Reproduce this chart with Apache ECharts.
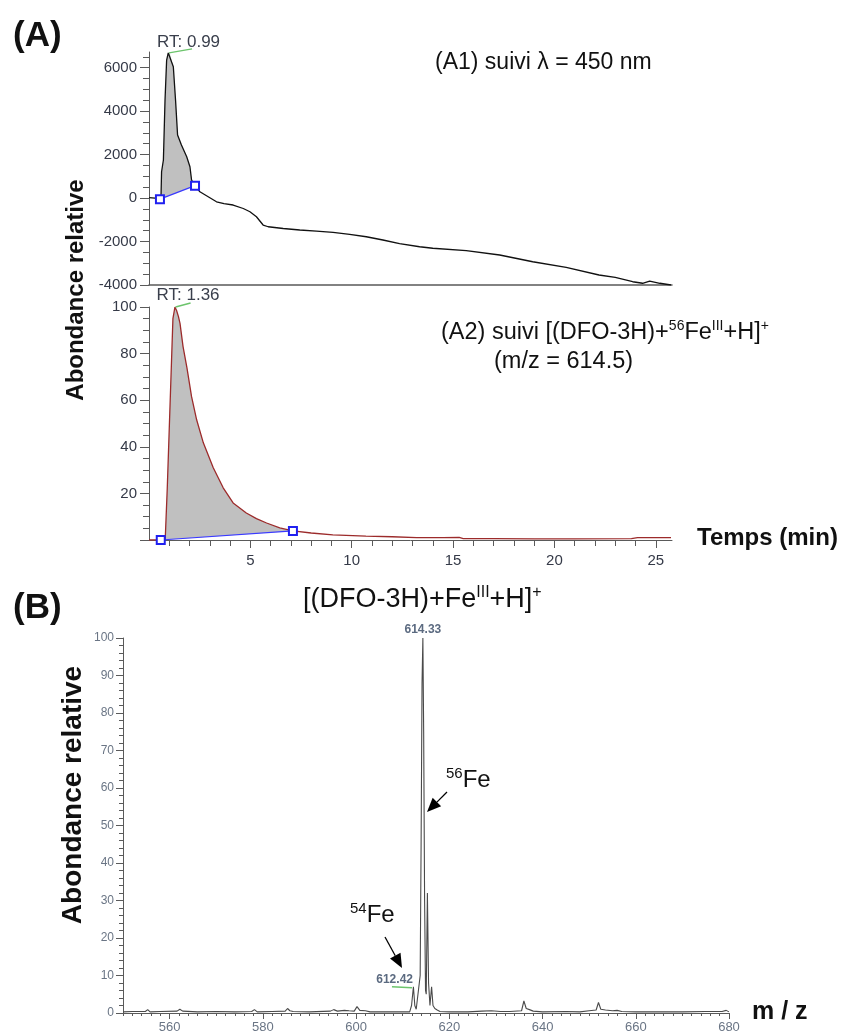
<!DOCTYPE html>
<html><head><meta charset="utf-8">
<script src="https://cdn.jsdelivr.net/npm/echarts@6/dist/echarts.min.js"></script>
<style>html,body{margin:0;padding:0;background:#fff}#c{width:846px;height:1033px}</style>
</head><body><div id="c"></div>
<script>
// ================= DATA =================
// (A1) absorbance trace, lambda = 450 nm
const a1Time   = [0, 0.15, 0.3, 0.38, 0.46, 0.54, 0.59, 0.62, 0.71, 0.79, 0.87, 0.95, 0.99, 1.03, 1.2, 1.31, 1.41, 1.6, 1.86, 2.02, 2.1, 2.27, 2.51, 2.92, 3.33, 3.7, 4.15, 4.65, 4.98, 5.3, 5.63, 5.88, 6.62, 7.44, 8.26, 9.08, 9.9, 10.72, 11.54, 12.36, 13.35, 14.0, 15.65, 17.3, 18.93, 20.58, 22.2, 23.0, 23.86, 24.35, 24.7, 25.2, 25.75];
const a1Signal = [20, 10, 0, -90, -40, -50, 0, 1210, 1750, 4500, 6350, 6680, 6680, 6650, 6040, 4500, 2900, 2440, 1900, 1440, 830, 570, 290, 60, -170, -260, -320, -480, -630, -860, -1240, -1320, -1400, -1470, -1520, -1580, -1670, -1780, -1930, -2100, -2240, -2310, -2420, -2620, -2930, -3190, -3540, -3650, -3850, -3920, -3820, -3920, -4000];
const a1BaseTime   = [0.54, 2.27];
const a1BaseSignal = [-50, 570];
const a1PeakPoint  = [[0.99, 6680]];
const a1PeakText   = ['RT: 0.99'];

// (A2) extracted ion m/z 614.5
const a2Time  = [0, 0.58, 0.8, 0.9, 1.0, 1.1, 1.18, 1.28, 1.36, 1.45, 1.53, 1.68, 1.87, 2.1, 2.35, 2.68, 3.17, 3.66, 4.15, 4.8, 5.3, 5.8, 6.45, 7.1, 8.0, 9.07, 10.7, 12.0, 13.2, 14.5, 15.3, 15.5, 17, 19, 21, 23.8, 24.1, 25.75];
const a2Abund = [0, 0, 0.3, 22, 48, 74, 95, 100, 98.5, 96, 93, 83, 74, 61.5, 51.6, 41.7, 31, 22.4, 15.9, 11.6, 9.2, 7.3, 5.2, 3.9, 3.0, 2.2, 1.7, 1.4, 1.0, 1.0, 1.1, 0.6, 0.6, 0.5, 0.5, 0.6, 1.0, 1.0];
const a2BaseTime  = [0.58, 7.1];
const a2BaseAbund = [0, 3.9];
const a2PeakPoint = [[1.36, 100]];
const a2PeakText  = ['RT: 1.36'];

// (B) mass spectrum
const bMz    = [550, 552, 554.8, 555.3, 555.8, 558, 561.6, 562.2, 562.8, 566, 570, 574, 577.6, 578.2, 578.8, 582, 584.8, 585.3, 585.8, 586.5, 590, 594.5, 595.2, 596, 597.5, 598.5, 599.6, 600.2, 600.8, 602, 603, 606, 609, 611.5, 611.9, 612.3, 612.6, 612.9, 613.3, 613.75, 613.95, 614.15, 614.33, 614.5, 614.7, 614.9, 615.05, 615.3, 615.55, 615.85, 616.2, 616.5, 616.9, 617.4, 618, 620, 624, 627, 629, 631, 633, 635.5, 636.0, 636.5, 637.2, 638, 640, 645, 648, 650, 651.5, 652.0, 652.5, 653.5, 655, 656, 657, 660, 665, 670, 675, 678.5, 679.4, 680];
const bAbund = [0.3, 0.4, 0.4, 0.9, 0.3, 0.4, 0.5, 1.0, 0.5, 0.3, 0.4, 0.3, 0.4, 0.9, 0.3, 0.4, 0.5, 1.2, 0.6, 0.4, 0.3, 0.5, 0.9, 0.5, 0.7, 0.6, 0.5, 1.7, 0.7, 0.6, 0.3, 0.3, 0.3, 0.3, 2.0, 7.0, 2.0, 1.0, 1.5, 10, 45, 88, 100, 75, 30, 6, 5, 32, 8, 2, 7, 2, 1.2, 0.8, 0.4, 0.3, 0.3, 0.5, 0.6, 0.4, 0.4, 0.6, 3.2, 1.2, 0.9, 0.5, 0.3, 0.4, 0.3, 0.6, 0.8, 2.8, 1.0, 0.8, 0.6, 0.7, 0.4, 0.3, 0.3, 0.3, 0.4, 0.4, 0.7, 0.3];
const bPeakPoints = [[614.33, 100], [612.42, 7]];
const bPeakTexts  = ['614.33', '612.42'];

// tick values
const a1YLabels = [-4000, -2000, 0, 2000, 4000, 6000];
const a2XLabels = [5, 10, 15, 20, 25];
const a2YLabels = [20, 40, 60, 80, 100];
const a2YMajor  = [0, 20, 40, 60, 80, 100];
const bXLabels  = [560, 580, 600, 620, 640, 660, 680];
const bYLabels  = [0, 10, 20, 30, 40, 50, 60, 70, 80, 90, 100];

// ================= HELPERS =================
const FONT = '"Liberation Sans", Arial, Helvetica, sans-serif';
const zip = (xs, ys) => xs.map((x, i) => [x, ys[i]]);
function stepTicks(lo, hi, step, skip) {
  const out = [];
  for (let k = 0; lo + k * step <= hi + 1e-9; k++) {
    const v = Math.round((lo + k * step) * 1000) / 1000;
    if (!skip.some(s => Math.abs(s - v) < 1e-9)) out.push(v);
  }
  return out;
}
const a1YMinor = stepTicks(-3500, 6500, 500, a1YLabels);
const a2XMinor = stepTicks(1, 25, 1, a2XLabels);
const a2YMinor = stepTicks(5, 95, 5, a2YMajor);
const bXMinor  = stepTicks(550, 680, 2, bXLabels);
const bYMinor  = stepTicks(2, 98, 2, bYLabels);

const AX = '#5a5a5a';
const plain = v => String(v);
function majorAxis(dim, grid, min, max, labelVals, tickVals, tickLen, lab, lineW) {
  return {
    type: 'value', gridIndex: grid, min, max, position: dim === 'x' ? 'bottom' : 'left',
    axisLine: { show: true, onZero: false, lineStyle: { color: AX, width: lineW || 1 } },
    axisTick: { show: tickVals.length > 0, customValues: tickVals, length: tickLen, lineStyle: { color: AX, width: 1 } },
    axisLabel: labelVals.length ? Object.assign({ show: true, customValues: labelVals, fontFamily: FONT, formatter: plain }, lab) : { show: false },
    splitLine: { show: false }, minorTick: { show: false }
  };
}
function minorAxis(dim, grid, min, max, tickVals, tickLen) {
  return {
    type: 'value', gridIndex: grid, min, max, position: dim === 'x' ? 'bottom' : 'left',
    axisLine: { show: false, onZero: false },
    axisTick: { show: true, customValues: tickVals, length: tickLen, lineStyle: { color: AX, width: 1 } },
    axisLabel: { show: false }, splitLine: { show: false }
  };
}
function peakArea(xi, yi, ts, vs, bt, bv) {
  return {
    type: 'custom', xAxisIndex: xi, yAxisIndex: yi, silent: true, z: 1,
    data: [[bt[0], bv[0]]],
    renderItem(params, api) {
      const pts = [api.coord([bt[0], bv[0]])];
      for (let i = 0; i < ts.length; i++) if (ts[i] > bt[0] && ts[i] < bt[1]) pts.push(api.coord([ts[i], vs[i]]));
      pts.push(api.coord([bt[1], bv[1]]));
      return { type: 'polygon', shape: { points: pts }, style: { fill: '#c0c0c0' } };
    }
  };
}
function peakLabels(xi, yi, pts, texts, items) {
  return {
    type: 'custom', xAxisIndex: xi, yAxisIndex: yi, silent: true, z: 6, clip: false,
    data: pts,
    renderItem(params, api) {
      const p = api.coord([api.value(0), api.value(1)]);
      const c = items[params.dataIndex];
      const ch = [{ type: 'text', x: p[0] + c.dx, y: p[1] + c.dy,
        style: { text: texts[params.dataIndex], font: c.font, fill: c.color, align: c.align, verticalAlign: 'bottom' } }];
      if (c.green) ch.push({ type: 'line', shape: { x1: p[0] + c.green[0], y1: p[1] + c.green[1], x2: p[0] + c.green[2], y2: p[1] + c.green[3] },
        style: { stroke: '#6cc46c', lineWidth: 1.3 } });
      return { type: 'group', children: ch };
    }
  };
}
function arrow(x1, y1, x2, y2) {
  const a = Math.atan2(y2 - y1, x2 - x1), L = 14, W = 6;
  const bx = x2 - L * Math.cos(a), by = y2 - L * Math.sin(a);
  const px = -Math.sin(a) * W, py = Math.cos(a) * W;
  return [
    { type: 'line', shape: { x1, y1, x2: bx, y2: by }, style: { stroke: '#000', lineWidth: 1.3 } },
    { type: 'polygon', shape: { points: [[x2, y2], [bx + px, by + py], [bx - px, by - py]] }, style: { fill: '#000' } }
  ];
}
function txt(x, y, text, font, extra) {
  return { type: 'text', x, y, style: Object.assign({ text, font, fill: '#111', align: 'left', verticalAlign: 'middle' }, extra || {}) };
}
function supRich(n, s, lh) {
  return { rich: { n: { fontSize: n, fontFamily: FONT, lineHeight: lh, fill: '#111' }, s: { fontSize: s, fontFamily: FONT, verticalAlign: 'top', lineHeight: s + 1, fill: '#111' } } };
}

const A_LAB = { fontSize: 15, color: '#353a48', margin: 12 };
const blueBase = { symbol: 'emptyRect', symbolSize: 8, lineStyle: { color: '#3a3aff', width: 1.2 }, itemStyle: { color: '#2020f0', borderColor: '#2020f0', borderWidth: 1.3 } };

const option = {
  animation: false,
  backgroundColor: '#fff',
  grid: [
    { left: 149, top: 52, width: 523, height: 233, containLabel: false, outerBoundsMode: 'none' },
    { left: 149, top: 307, width: 523, height: 233, containLabel: false, outerBoundsMode: 'none' },
    { left: 123, top: 638, width: 606, height: 375, containLabel: false, outerBoundsMode: 'none' }
  ],
  xAxis: [
    majorAxis('x', 0, 0, 25.8, [], [], 0, {}, 1.5),
    majorAxis('x', 1, 0, 25.8, a2XLabels, a2XLabels, 8, { fontSize: 15, color: '#353a48', margin: 13 }),
    minorAxis('x', 1, 0, 25.8, a2XMinor, 6),
    majorAxis('x', 2, 550, 680, bXLabels, bXLabels, 6, { fontSize: 13, color: '#6a7585', margin: 8 }),
    minorAxis('x', 2, 550, 680, bXMinor, 3)
  ],
  yAxis: [
    majorAxis('y', 0, -4000, 6720, a1YLabels, a1YLabels, 9, A_LAB),
    minorAxis('y', 0, -4000, 6720, a1YMinor, 6),
    majorAxis('y', 1, 0, 100, a2YLabels, a2YMajor, 9, A_LAB),
    minorAxis('y', 1, 0, 100, a2YMinor, 6),
    majorAxis('y', 2, 0, 100, bYLabels, bYLabels, 7, { fontSize: 12, color: '#6a7585', margin: 9 }),
    minorAxis('y', 2, 0, 100, bYMinor, 4)
  ],
  series: [
    peakArea(0, 0, a1Time, a1Signal, a1BaseTime, a1BaseSignal),
    { type: 'line', xAxisIndex: 0, yAxisIndex: 0, data: zip(a1Time, a1Signal), symbol: 'none', lineStyle: { color: '#111', width: 1.3 }, z: 3 },
    Object.assign({ type: 'line', xAxisIndex: 0, yAxisIndex: 0, data: zip(a1BaseTime, a1BaseSignal), z: 4 }, blueBase),
    peakLabels(0, 0, a1PeakPoint, a1PeakText, [{ dx: -12, dy: -2, font: '17px ' + FONT, color: '#3a3f4c', align: 'left', green: [0, 0, 23, -4] }]),

    peakArea(1, 2, a2Time, a2Abund, a2BaseTime, a2BaseAbund),
    { type: 'line', xAxisIndex: 1, yAxisIndex: 2, data: zip(a2Time, a2Abund), symbol: 'none', lineStyle: { color: '#9c2b2b', width: 1.3 }, z: 3 },
    Object.assign({ type: 'line', xAxisIndex: 1, yAxisIndex: 2, data: zip(a2BaseTime, a2BaseAbund), z: 4 }, blueBase),
    peakLabels(1, 2, a2PeakPoint, a2PeakText, [{ dx: -20, dy: -3, font: '17px ' + FONT, color: '#3a3f4c', align: 'left', green: [-1, 0, 14, -4] }]),

    { type: 'line', xAxisIndex: 3, yAxisIndex: 4, data: zip(bMz, bAbund), symbol: 'none', lineStyle: { color: '#4a4a4a', width: 1.1 }, z: 3 },
    peakLabels(3, 4, bPeakPoints, bPeakTexts, [
      { dx: 0, dy: -2, font: 'bold 12px ' + FONT, color: '#5b6a80', align: 'center' },
      { dx: -1, dy: -1, font: 'bold 12px ' + FONT, color: '#5b6a80', align: 'right', green: [-22, 0, -2, 1] }
    ])
  ],
  graphic: [
    txt(13, 36, '(A)', 'bold 35px ' + FONT),
    txt(13, 608, '(B)', 'bold 35px ' + FONT),
    { type: 'text', x: 76, y: 290, rotation: Math.PI / 2, style: { text: 'Abondance relative', font: 'bold 24px ' + FONT, fill: '#111', align: 'center', verticalAlign: 'middle' } },
    { type: 'text', x: 73, y: 795, rotation: Math.PI / 2, style: { text: 'Abondance relative', font: 'bold 28px ' + FONT, fill: '#111', align: 'center', verticalAlign: 'middle' } },
    txt(697, 538, 'Temps (min)', 'bold 24px ' + FONT),
    txt(752, 1012, 'm / z', 'bold 25px ' + FONT),
    txt(435, 63, '(A1) suivi λ = 450 nm', '23px ' + FONT),
    txt(441, 333, '{n|(A2) suivi [(DFO-3H)+}{s|56}{n|Fe}{s|III}{n|+H]}{s|+}', '23px ' + FONT, supRich(23.5, 14, 27)),
    txt(494, 362, '(m/z = 614.5)', '23.5px ' + FONT),
    txt(303, 600, '{n|[(DFO-3H)+Fe}{s|III}{n|+H]}{s|+}', '27px ' + FONT, supRich(27, 16, 30)),
    txt(446, 780, '{s|56}{n|Fe}', '24px ' + FONT, supRich(24, 15, 27)),
    txt(350, 915, '{s|54}{n|Fe}', '24px ' + FONT, supRich(24, 15, 27)),
    ...arrow(447, 792, 427, 812),
    ...arrow(385, 937, 402, 968)
  ]
};
const chart = echarts.init(document.getElementById('c'), null, { renderer: 'canvas' });
chart.setOption(option);
</script>
</body></html>
